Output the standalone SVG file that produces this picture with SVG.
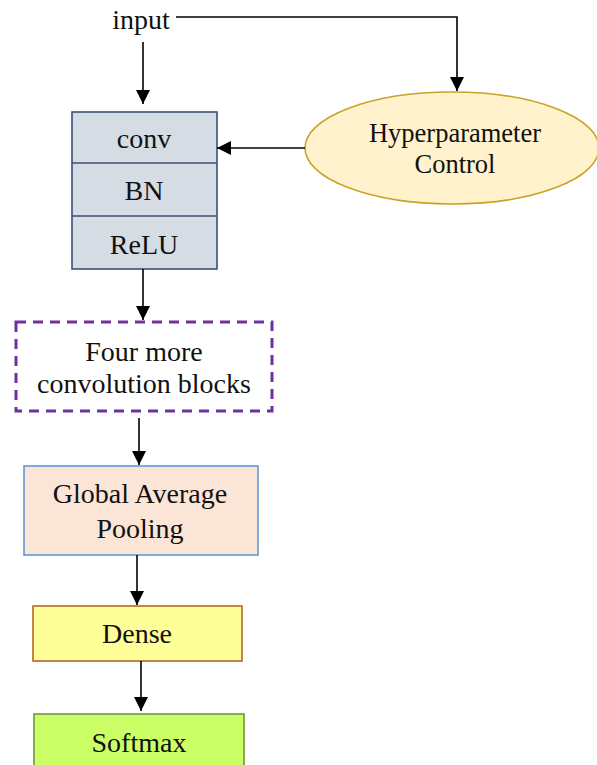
<svg xmlns="http://www.w3.org/2000/svg" width="597" height="765" viewBox="0 0 597 765">
<style>
text{font-family:"Liberation Serif","Times New Roman",serif;font-size:28px;fill:#111;text-anchor:middle}
text.e{font-size:26.5px}
.c{stroke:#000;stroke-width:1.6;fill:none}
</style>
<defs>
<marker id="ah" viewBox="0 0 10 10" refX="10" refY="5" markerWidth="14" markerHeight="14" markerUnits="userSpaceOnUse" orient="auto">
<path d="M0,0 L10,5 L0,10 z" fill="#000"/>
</marker>
</defs>
<rect width="597" height="765" fill="#fff"/>
<g id="input"><text x="141" y="29">input</text></g>
<g id="hyper">
<ellipse cx="452" cy="148" rx="147" ry="56" fill="#fff2cc" stroke="#c9a227" stroke-width="1.6"/>
<text class="e" x="455" y="142">Hyperparameter</text>
<text class="e" x="455" y="173">Control</text>
</g>
<g id="convblock">
<rect x="72" y="112" width="145" height="157" fill="#d6dce4" stroke="#3b5078" stroke-width="1.6"/>
<line x1="72" y1="163" x2="217" y2="163" stroke="#3b5078" stroke-width="1.6"/>
<line x1="72" y1="216" x2="217" y2="216" stroke="#3b5078" stroke-width="1.6"/>
<text x="144" y="148">conv</text>
<text x="144" y="200">BN</text>
<text x="144" y="254">ReLU</text>
</g>
<g id="fourmore">
<rect x="16" y="322" width="256" height="89" fill="#fff" stroke="#7030a0" stroke-width="3" stroke-dasharray="10,7"/>
<text x="144" y="361">Four more</text>
<text x="144" y="393">convolution blocks</text>
</g>
<g id="gap">
<rect x="24" y="466" width="234" height="89" fill="#fbe5d6" stroke="#5b9bd5" stroke-width="1.6"/>
<text x="140" y="503">Global Average</text>
<text x="140" y="538">Pooling</text>
</g>
<g id="dense">
<rect x="33" y="606" width="209" height="55" fill="#ffff99" stroke="#b8652a" stroke-width="1.6"/>
<text x="137" y="643">Dense</text>
</g>
<g id="softmax">
<rect x="34" y="714" width="210" height="60" fill="#ccff66" stroke="#6a9a3a" stroke-width="1.6"/>
<text x="139" y="752">Softmax</text>
</g>
<g id="connectors">
<path class="c" d="M143,42 V104" marker-end="url(#ah)"/>
<path class="c" d="M176,17 H457 V91" marker-end="url(#ah)"/>
<path class="c" d="M305,148 H217" marker-end="url(#ah)"/>
<path class="c" d="M143,269 V320" marker-end="url(#ah)"/>
<path class="c" d="M139,418 V465" marker-end="url(#ah)"/>
<path class="c" d="M137,555 V605" marker-end="url(#ah)"/>
<path class="c" d="M141,661 V711" marker-end="url(#ah)"/>
</g>
</svg>
